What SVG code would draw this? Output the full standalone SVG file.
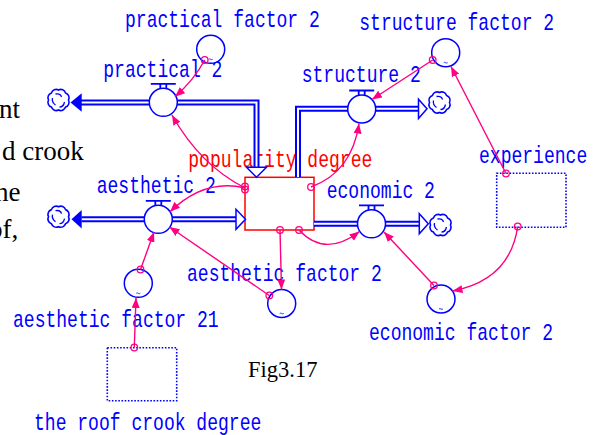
<svg xmlns="http://www.w3.org/2000/svg" width="594" height="435" viewBox="0 0 594 435">
<defs>
<style>
.lbl{font-family:"Liberation Mono","DejaVu Sans Mono",monospace;font-size:23px;fill:#0000ff}
.red{fill:#ff0000}
.doc{font-family:"Liberation Serif","Times New Roman",serif;fill:#000}
.pipe{fill:none;stroke:#0000ff;stroke-width:6}
.pipein{fill:none;stroke:#fff;stroke-width:2}
.valve{fill:#fff;stroke:#0000ff;stroke-width:1.5}
.vtop{fill:none;stroke:#0000ff;stroke-width:1.8}
.conv{fill:#fff;stroke:#0000ff;stroke-width:1.5}
.tilde{fill:none;stroke:#0000ff;stroke-width:0.8}
.stock{fill:#fff;stroke:#ff0000;stroke-width:1.5}
.aux{fill:none;stroke:#0000ff;stroke-width:1.6;stroke-dasharray:1.6 1.6}
.link{fill:none;stroke:#ff0080;stroke-width:1.4;marker-end:url(#ah)}
.orig{fill:none;stroke:#ff0080;stroke-width:1.3}
.hollow{fill:#fff;stroke:#0000ff;stroke-width:1.5;stroke-linejoin:miter}
.filled{fill:#0000ff}
.cloud{fill:#fff;stroke:#0000ff;stroke-width:1.6}
.swirl{fill:none;stroke:#0000ff;stroke-width:1.3}
</style>
<marker id="ah" markerUnits="userSpaceOnUse" viewBox="0 0 10 8" refX="10" refY="4" markerWidth="10" markerHeight="8" orient="auto"><path d="M0,0 L10,4 L0,8 Z" fill="#ff0080"/></marker>
<g id="cloudshape">
<path class="cloud" d="M10,0 A5,5 0 0 1 7.07,7.07 A5,5 0 0 1 0,10 A5,5 0 0 1 -7.07,7.07 A5,5 0 0 1 -10,0 A5,5 0 0 1 -7.07,-7.07 A5,5 0 0 1 0,-10 A5,5 0 0 1 7.07,-7.07 A5,5 0 0 1 10,0 Z"/>
<path class="swirl" d="M-3,-6 q5,-1 6,3 M6,2 q-1,5 -5,5 M-3,5 q-4,-3 -3,-7"/>
</g>
<g id="valvetop"><path class="vtop" d="M-12.5,-18.5 H12.5 M-3,-18 V-13.5 M3,-18 V-13.5"/></g>
<g id="tildemark"><path class="tilde" d="M-2,10 q1,-0.8 2,0 q1,0.8 2,0"/></g>
</defs>
<rect width="594" height="435" fill="#fff"/>

<g id="background-text" class="doc" font-size="27">
<text x="-1" y="118">nt</text>
<text x="2" y="160">d crook</text>
<text x="-5" y="201">he</text>
<text x="-11" y="238">of,</text>
<text x="248" y="377" font-size="22.5">Fig3.17</text>
</g>

<g id="popularity-degree">
<rect class="stock" x="245" y="177.3" width="69" height="52.7"/>
<text class="lbl red" transform="translate(188.3,167) scale(0.785,1)">popularity degree</text>
</g>

<g id="practical-2">
<path class="pipe" d="M81,102.5 H256.5 V167.5"/>
<path class="pipein" d="M81,102.5 H256.5 V167.5"/>
<polygon class="filled" points="81.7,93.3 81.7,111.7 70.5,102.5"/>
<polygon class="hollow" points="246.5,167.3 266.5,167.3 256.5,177.3"/>
<use href="#cloudshape" transform="translate(58.5,100)"/>
<circle class="valve" cx="163.3" cy="102.3" r="14"/>
<use href="#valvetop" transform="translate(163.3,102.3)"/>
<text class="lbl" transform="translate(103.3,77) scale(0.785,1)">practical 2</text>
</g>

<g id="structure-2">
<path class="pipe" d="M298,177 V108.8 H418.5"/>
<path class="pipein" d="M298,177 V108.8 H418.5"/>
<polygon class="hollow" points="418.5,99.2 418.5,118.4 427,108.8"/>
<use href="#cloudshape" transform="translate(439.5,102.5)"/>
<circle class="valve" cx="361.7" cy="109" r="14"/>
<use href="#valvetop" transform="translate(361.7,109)"/>
<text class="lbl" transform="translate(301.7,82) scale(0.785,1)">structure 2</text>
</g>

<g id="aesthetic-2">
<path class="pipe" d="M81.5,219.3 H236"/>
<path class="pipein" d="M81.5,219.3 H236"/>
<polygon class="filled" points="81.7,210 81.7,228.6 71.5,219.3"/>
<polygon class="hollow" points="236,209.3 236,229.3 245.5,219.3"/>
<use href="#cloudshape" transform="translate(58.5,216.7)"/>
<circle class="valve" cx="158.3" cy="219.3" r="14"/>
<use href="#valvetop" transform="translate(158.3,219.3)"/>
<text class="lbl" transform="translate(96.7,193) scale(0.785,1)">aesthetic 2</text>
</g>

<g id="economic-2">
<path class="pipe" d="M314,223.8 H419.3"/>
<path class="pipein" d="M314,223.8 H419.3"/>
<polygon class="hollow" points="419.3,213.8 419.3,233.8 428.3,223.8"/>
<use href="#cloudshape" transform="translate(440.5,225)"/>
<circle class="valve" cx="371.5" cy="223.8" r="14"/>
<use href="#valvetop" transform="translate(371.5,223.8)"/>
<text class="lbl" transform="translate(326.7,198) scale(0.785,1)">economic 2</text>
</g>

<g id="practical-factor-2">
<circle class="conv" cx="210.7" cy="49.3" r="14"/>
<use href="#tildemark" transform="translate(210.7,49.3)"/>
<text class="lbl" transform="translate(125,27) scale(0.785,1)">practical factor 2</text>
</g>

<g id="structure-factor-2">
<circle class="conv" cx="445.7" cy="52.7" r="14"/>
<use href="#tildemark" transform="translate(445.7,52.7)"/>
<text class="lbl" transform="translate(359.3,30) scale(0.785,1)">structure factor 2</text>
</g>

<g id="aesthetic-factor-21">
<circle class="conv" cx="138.3" cy="283.3" r="14"/>
<use href="#tildemark" transform="translate(138.3,283.3)"/>
<text class="lbl" transform="translate(13,327) scale(0.785,1)">aesthetic factor 21</text>
</g>

<g id="aesthetic-factor-2">
<circle class="conv" cx="281.7" cy="303.5" r="14"/>
<use href="#tildemark" transform="translate(281.7,303.5)"/>
<text class="lbl" transform="translate(187,281) scale(0.785,1)">aesthetic factor 2</text>
</g>

<g id="economic-factor-2">
<circle class="conv" cx="441" cy="299" r="14"/>
<use href="#tildemark" transform="translate(441,299)"/>
<text class="lbl" transform="translate(369,340) scale(0.785,1)">economic factor 2</text>
</g>

<g id="experience">
<rect class="aux" x="496.7" y="173.3" width="69.3" height="54"/>
<text class="lbl" transform="translate(479,163) scale(0.785,1)">experience</text>
</g>

<g id="the-roof-crook-degree">
<rect class="aux" x="107.3" y="347.7" width="69.4" height="53"/>
<text class="lbl" transform="translate(34,430) scale(0.785,1)">the roof crook degree</text>
</g>

<g id="connectors">
<path class="link" d="M204.7,60 Q194,80 175,96.7"/>
<path class="link" d="M245,188 Q200,165 172,115"/>
<path class="link" d="M245,188 Q205,178 170,211.7"/>
<path class="link" d="M140.5,269.5 L154,232"/>
<path class="link" d="M269.3,295.5 L169.5,227"/>
<path class="link" d="M280,230 L281.5,289.5"/>
<path class="link" d="M299,230 Q325,258 359.5,231.5"/>
<path class="link" d="M311,187 Q352,172 359,123.5"/>
<path class="link" d="M432.7,60 L372,99.5"/>
<path class="link" d="M506,173.5 L451,66.5"/>
<path class="link" d="M517.7,226.5 Q510,280 452.5,291"/>
<path class="link" d="M434,285.5 L384,232"/>
<path class="link" d="M134.3,347.5 L136,298"/>
<circle class="orig" cx="204.7" cy="60" r="3.3"/>
<circle class="orig" cx="245" cy="186.5" r="3.3"/>
<circle class="orig" cx="245" cy="189.5" r="3.3"/>
<circle class="orig" cx="140.5" cy="269.5" r="3.3"/>
<circle class="orig" cx="269.3" cy="295.5" r="3.3"/>
<circle class="orig" cx="280" cy="230" r="3.3"/>
<circle class="orig" cx="299" cy="230" r="3.3"/>
<circle class="orig" cx="311" cy="187" r="3.3"/>
<circle class="orig" cx="432.7" cy="60" r="3.3"/>
<circle class="orig" cx="506" cy="173.5" r="3.3"/>
<circle class="orig" cx="517.7" cy="226.5" r="3.3"/>
<circle class="orig" cx="434" cy="285.5" r="3.3"/>
<circle class="orig" cx="134.3" cy="347.5" r="3.3"/>
</g>
</svg>
